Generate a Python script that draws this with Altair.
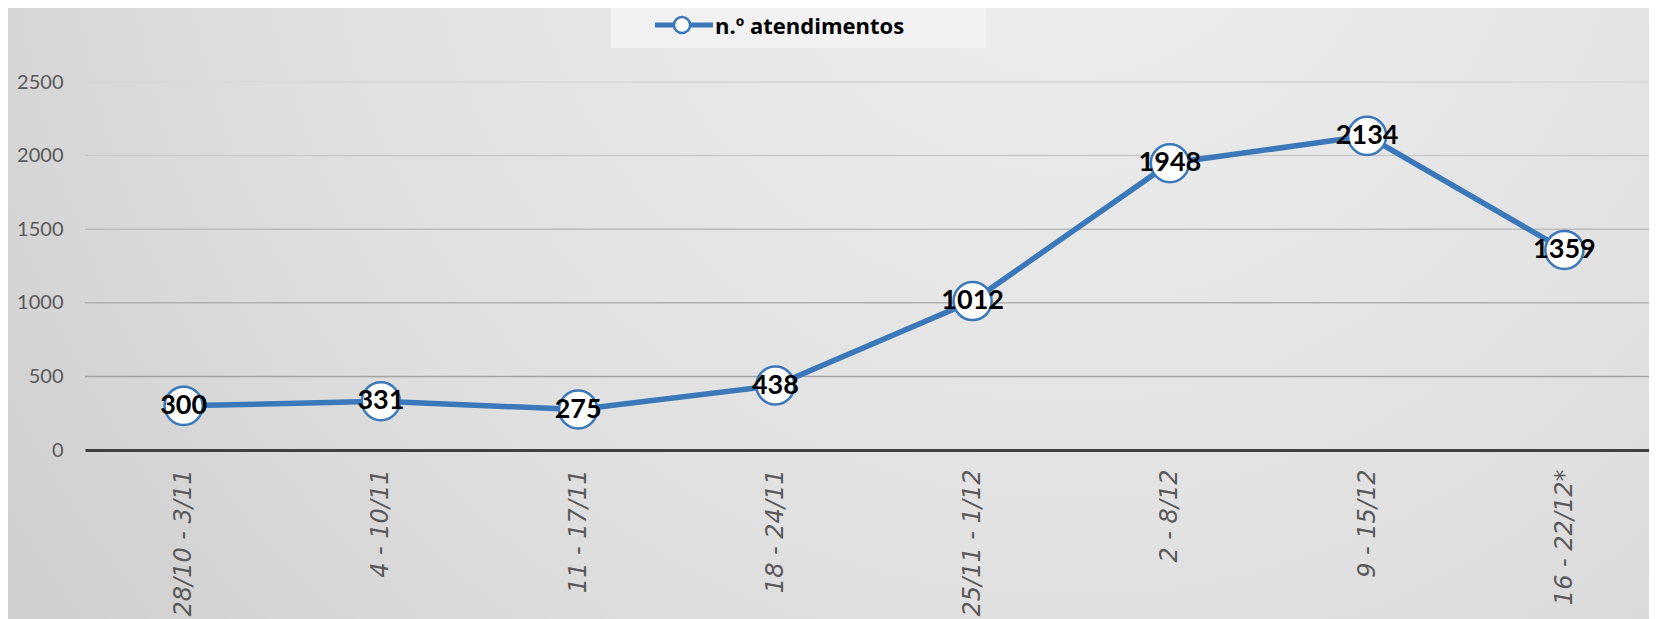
import altair as alt
import pandas as pd

# ---- data ----
weeks = ["28/10 - 3/11", "4 - 10/11", "11 - 17/11", "18 - 24/11",
         "25/11 - 1/12", "2 - 8/12", "9 - 15/12", "16 - 22/12*"]
atendimentos = [300, 331, 275, 438, 1012, 1948, 2134, 1359]
series_name = "n.º atendimentos"
y_ticks = [0, 500, 1000, 1500, 2000, 2500]
grid_values = [500, 1000, 1500, 2000, 2500]

df = pd.DataFrame({"semana": weeks, "n": atendimentos})
grid_df = pd.DataFrame({"g": grid_values})

W, H = 1564, 368
PAD_L, PAD_T, PAD_B = 77, 74, 169
BLUE = "#3b78b9"
FONT = "Lato"

x_enc = alt.X(
    "semana:N", sort=weeks,
    scale=alt.Scale(type="point", padding=0.5, range=[0, 1578]),
    axis=alt.Axis(title=None, labelAngle=270, labelFont="DejaVu Sans", labelFontSize=24,
                  labelFontStyle="italic", labelColor="#595959", labelPadding=19,
                  ticks=False, domain=True, domainColor="#404040", domainWidth=3,
                  grid=False, zindex=1, labelOverlap=False),
)
y_enc = alt.Y(
    "n:Q", scale=alt.Scale(domain=[0, 2500], nice=False),
    axis=alt.Axis(title=None, values=y_ticks, format="d", labelFont=FONT, labelFontSize=20,
                  labelColor="#595959", labelPadding=22, ticks=False,
                  domain=False, grid=False, zindex=1),
)

bg = alt.Chart(alt.Data(values=[{}])).mark_rect(
    color={
        "gradient": "radial",
        "x1": 0.64, "y1": 0.22, "x2": 0.64, "y2": 0.22,
        "r1": 0, "r2": 0.85,
        "stops": [
            {"offset": 0, "color": "#efefef"},
            {"offset": 0.55, "color": "#e0e0e0"},
            {"offset": 1, "color": "#cbcbcb"},
        ],
    }
).encode(
    x=alt.value(-PAD_L), x2=alt.value(W + 20),
    y=alt.value(-PAD_T), y2=alt.value(H + PAD_B),
)

grid = alt.Chart(grid_df).mark_rule(strokeWidth=1.5).encode(
    y=alt.Y("g:Q"),
    x=alt.value(0), x2=alt.value(W + 20),
    color=alt.Color("g:Q", scale=alt.Scale(domain=[500, 2500],
                                           range=["#a2a2a2", "#d6d6d6"]),
                    legend=None),
)

line = alt.Chart(df).mark_line(color=BLUE, strokeWidth=5.5).encode(x=x_enc, y=y_enc)

points = alt.Chart(df).mark_point(
    shape="circle", filled=True, fill="white", stroke=BLUE,
    strokeWidth=2.5, size=1450, opacity=1
).encode(x=alt.X("semana:N", sort=weeks), y=alt.Y("n:Q"))

labels = alt.Chart(df).mark_text(
    font=FONT, fontWeight="bold", fontSize=27, color="black",
    align="center", baseline="middle"
).encode(x=alt.X("semana:N", sort=weeks), y=alt.Y("n:Q"), text=alt.Text("n:Q"))

# ---- legend (drawn manually to reproduce the line+marker symbol) ----
leg_data = alt.Data(values=[{"label": series_name}])
leg_box = alt.Chart(leg_data).mark_rect(fill="#f4f4f4", opacity=0.75).encode(
    x=alt.value(526), x2=alt.value(901), y=alt.value(-PAD_T), y2=alt.value(-34)
)
leg_line = alt.Chart(leg_data).mark_rule(color=BLUE, strokeWidth=5).encode(
    x=alt.value(570), x2=alt.value(628), y=alt.value(-57)
)
leg_pt = alt.Chart(leg_data).mark_point(
    shape="circle", filled=True, fill="white", stroke=BLUE, strokeWidth=2.5,
    size=260, opacity=1
).encode(x=alt.value(597), y=alt.value(-57))
leg_text = alt.Chart(leg_data).mark_text(
    font="Open Sans", fontWeight="bold", fontSize=22, color="black",
    align="left", baseline="middle"
).encode(x=alt.value(630), y=alt.value(-55), text="label:N")

chart = alt.layer(
    bg, grid, line, points, labels, leg_box, leg_line, leg_pt, leg_text
).properties(
    width=W, height=H,
    autosize=alt.AutoSizeParams(type="none"),
    padding={"left": PAD_L, "top": PAD_T, "right": 0, "bottom": PAD_B},
    background="#d2d2d2",
).configure_view(stroke=None)

chart.save("out.html", embed_options={"renderer": "svg", "actions": False})
